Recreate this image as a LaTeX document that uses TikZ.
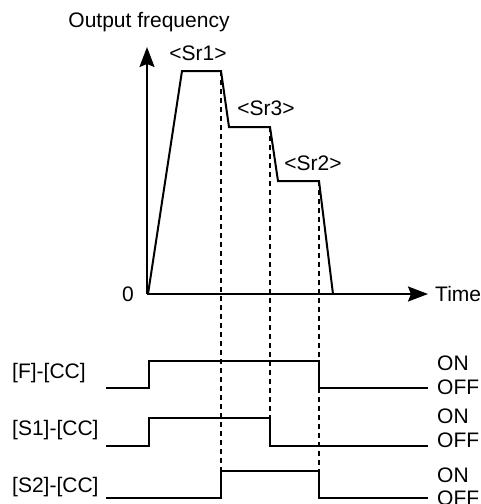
\documentclass[tikz,border=0pt]{standalone}
\usepackage{fontspec}
\setmainfont{Liberation Sans}
\usetikzlibrary{arrows.meta}

\begin{document}
\begin{tikzpicture}[
  x=1pt,y=-1pt,
  every node/.style={font=\fontsize{21}{24}\selectfont,inner sep=0pt},
  wave/.style={line width=2pt,line join=miter},
  axis/.style={-{Stealth[length=20pt,width=15pt,inset=3pt]},line width=2pt},
  guide/.style={line width=2pt,dash pattern=on 5pt off 4pt},
  state/.style={anchor=west},
]
  \useasboundingbox (0,0) rectangle (480,504);

  % axes
  \coordinate (orig) at (147,294);
  \coordinate (ytop) at (147,47);
  \coordinate (xend) at (428,294);
  \draw[axis] (orig) -- (ytop);
  \draw[axis] (orig) -- (xend);
  \node (ylab) at (149,22) {Output frequency};
  \node (zero) at (128,294) {0};
  \node[anchor=west] (xlab) at (435,294) {Time};

  % frequency profile
  \coordinate (p0) at (148,294);
  \coordinate (p1) at (182,71);
  \coordinate (p2) at (221,71);
  \coordinate (p3) at (229,127);
  \coordinate (p4) at (270,127);
  \coordinate (p5) at (278,181);
  \coordinate (p6) at (319,181);
  \coordinate (p7) at (333,294);
  \draw[wave] (p0) -- (p1) -- (p2) -- (p3) -- (p4) -- (p5) -- (p6) -- (p7);
  \node (sr1) at (198,53)  {<Sr1>};
  \node (sr3) at (266,108) {<Sr3>};
  \node (sr2) at (313,163) {<Sr2>};

  % signals
  \node[anchor=west] (fcc)  at (12,373) {[F]-[CC]};
  \node[anchor=west] (s1cc) at (12,430) {[S1]-[CC]};
  \node[anchor=west] (s2cc) at (12,487) {[S2]-[CC]};

  \coordinate (f0) at (106,388);
  \coordinate (f1) at (149,388);
  \coordinate (f2) at (149,361);
  \coordinate (f3) at (319,361);
  \coordinate (f4) at (319,388);
  \coordinate (f5) at (428,388);
  \draw[wave] (f0) -- (f1) -- (f2) -- (f3) -- (f4) -- (f5);

  \coordinate (a0) at (106,446);
  \coordinate (a1) at (149,446);
  \coordinate (a2) at (149,418);
  \coordinate (a3) at (270,418);
  \coordinate (a4) at (270,446);
  \coordinate (a5) at (428,446);
  \draw[wave] (a0) -- (a1) -- (a2) -- (a3) -- (a4) -- (a5);

  \coordinate (b0) at (106,498);
  \coordinate (b1) at (221,498);
  \coordinate (b2) at (221,471);
  \coordinate (b3) at (319,471);
  \coordinate (b4) at (319,498);
  \coordinate (b5) at (428,498);
  \draw[wave] (b0) -- (b1) -- (b2) -- (b3) -- (b4) -- (b5);

  % ON / OFF
  \node[state] (fon)   at (437,363) {ON};
  \node[state] (foff)  at (437,387) {OFF};
  \node[state] (s1on)  at (437,416) {ON};
  \node[state] (s1off) at (437,440) {OFF};
  \node[state] (s2on)  at (437,475) {ON};
  \node[state] (s2off) at (437,498) {OFF};

  % guide lines
  \draw[guide] (p2) -- (b2);
  \draw[guide] (p4) -- (a3);
  \draw[guide] (p6) -- (b3);
\end{tikzpicture}
\end{document}
